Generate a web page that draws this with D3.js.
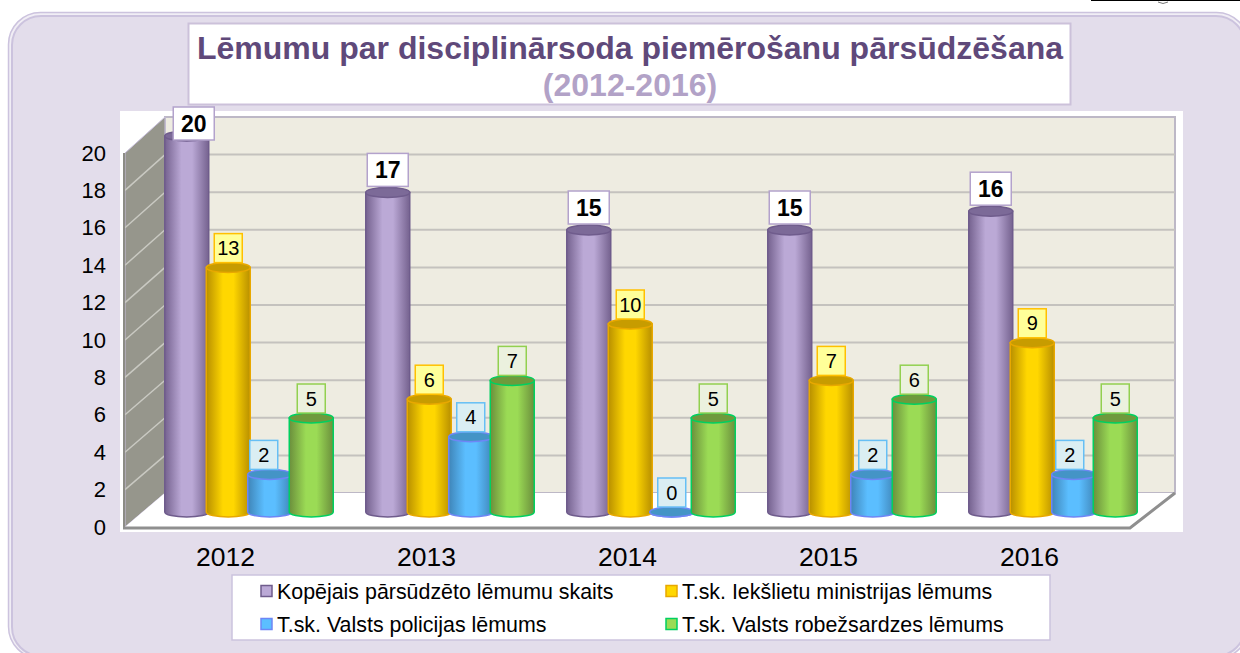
<!doctype html>
<html>
    <head>
        <meta charset="utf-8">
        <title>Lēmumu par disciplinārsoda piemērošanu pārsūdzēšana</title>
        <script src="https://d3js.org/d3.v7.min.js"></script>
        <style type="text/css">
            html, body { margin: 0; padding: 0; background: #fff; overflow: hidden; }
            svg { display: block; font-family: "Liberation Sans", Arial, sans-serif; }
            .axis path, .axis line { display: none; }
            .axis text { fill: #000; font-family: "Liberation Sans", Arial, sans-serif; }
        </style>
    </head>
    <body>
        <script>
        var titleText = "Lēmumu par disciplinārsoda piemērošanu pārsūdzēšana";
        var subtitleText = "(2012-2016)";
        var years = ["2012", "2013", "2014", "2015", "2016"];
        var seriesNames = [
            "Kopējais pārsūdzēto lēmumu skaits", "T.sk. Iekšlietu ministrijas lēmums",
            "T.sk. Valsts policijas lēmums", "T.sk. Valsts robežsardzes lēmums"];
        var totalValues = [20, 17, 15, 15, 16];
        var ministryValues = [13, 6, 10, 7, 9];
        var policeValues = [2, 4, 0, 2, 2];
        var borderValues = [5, 7, 5, 6, 5];
        var yTicks = [0, 2, 4, 6, 8, 10, 12, 14, 16, 18, 20];

        var seriesValues = [totalValues, ministryValues, policeValues, borderValues];
        var styles = [
            {edge: "#6F5C8C", dark: "#75628F", light: "#BBA9D6", top: "#7C6A98", fill: "#fff", box: "#B3A2CC", bold: true},
            {edge: "#E8A800", dark: "#B88F00", light: "#FFD700", top: "#C79C00", fill: "#FFFF99", box: "#FFC000"},
            {edge: "#6E86F5", dark: "#3F85B8", light: "#5BBEFF", top: "#4494C6", fill: "#DAEEF3", box: "#66BFF5"},
            {edge: "#00D060", dark: "#6B8F3C", light: "#9BDB55", top: "#6E9A3C", fill: "#EBF1DE", box: "#92D050"}
        ];

        var svg = d3.select("body").append("svg").attr("width", 1240).attr("height", 653);
        var defs = svg.append("defs");

        // page scrap and rounded panel
        svg.append("line").attr("x1", 1091).attr("x2", 1240).attr("y1", 0.5).attr("y2", 0.5).attr("stroke", "#000");
        svg.append("path").attr("d", "M1158 2 q5 3 10 0").attr("fill", "none").attr("stroke", "#777");
        svg.append("rect").attr("x", 8.5).attr("y", 12.5).attr("width", 1240).attr("height", 646).attr("rx", 32)
            .attr("fill", "#F1EEF5").attr("stroke", "#CCC3DE").attr("stroke-width", 1.5);
        svg.append("rect").attr("x", 12).attr("y", 16).attr("width", 1233).attr("height", 640).attr("rx", 29)
            .attr("fill", "#E3DDEB").attr("stroke", "#CCC3DE").attr("stroke-width", 2);

        // title box
        svg.append("rect").attr("x", 188.5).attr("y", 23.5).attr("width", 882).attr("height", 81)
            .attr("fill", "#fff").attr("stroke", "#CCC1DA").attr("stroke-width", 2);
        svg.append("text").attr("x", 630).attr("y", 59).attr("text-anchor", "middle")
            .attr("font-size", 32).attr("font-weight", "bold").attr("fill", "#5F497A").text(titleText);
        svg.append("text").attr("x", 630).attr("y", 96).attr("text-anchor", "middle")
            .attr("font-size", 32).attr("font-weight", "bold").attr("fill", "#B2A2C7").text(subtitleText);

        // chart area
        svg.append("rect").attr("x", 120).attr("y", 111).attr("width", 1063).attr("height", 421).attr("fill", "#fff");

        var x0 = d3.scaleBand().domain(years).range([125, 1130]);
        var x1 = d3.scaleBand().domain(d3.range(4)).range([-83, 83]);
        var depthX = 23.5;
        var yFront = d3.scaleLinear().domain([0, 20]).range([527, 153]);
        var yBack = d3.scaleLinear().domain([0, 20]).range([493, 117]);
        var yBar = d3.scaleLinear().domain([0, 20]).range([512, 136]);

        var wallL = 165, wallR = 1175, frontL = 125, frontR = 1130;

        // back wall
        svg.append("rect").attr("x", wallL).attr("y", yBack(20)).attr("width", wallR - wallL).attr("height", yBack(0) - yBack(20))
            .attr("fill", "#EEECE1").attr("stroke", "#BDB8C6").attr("stroke-width", 2);
        svg.selectAll("line.back").data(yTicks.slice(1, -1)).enter().append("line")
            .attr("class", "back")
            .attr("x1", wallL).attr("x2", wallR)
            .attr("y1", function(d) { return yBack(d); }).attr("y2", function(d) { return yBack(d); })
            .attr("stroke", "#C4C2BE").attr("stroke-width", 2);

        // side wall
        svg.append("path")
            .attr("d", "M" + frontL + "," + yFront(20) + "L" + wallL + "," + yBack(20) + "L" + wallL + "," + yBack(0) + "L" + frontL + "," + yFront(0) + "Z")
            .attr("fill", "#96968C").attr("stroke", "#C7BEDB").attr("stroke-width", 1);
        svg.selectAll("line.side").data(yTicks.slice(1, -1)).enter().append("line")
            .attr("class", "side")
            .attr("x1", frontL).attr("x2", wallL)
            .attr("y1", function(d) { return yFront(d); }).attr("y2", function(d) { return yBack(d); })
            .attr("stroke", "#C9C9C2").attr("stroke-width", 1.5);
        svg.append("line").attr("x1", frontL - 1).attr("x2", frontL - 1).attr("y1", yFront(20)).attr("y2", yFront(0))
            .attr("stroke", "#8C8C86").attr("stroke-width", 2);

        // floor
        svg.append("path")
            .attr("d", "M" + frontL + "," + yFront(0) + "L" + wallL + "," + yBack(0) + "L" + wallR + "," + yBack(0) + "L" + frontR + "," + yFront(0) + "Z")
            .attr("fill", "#fff");
        svg.append("path")
            .attr("d", "M" + (frontL - 2) + "," + (yFront(0) + 1) + "L" + frontR + "," + (yFront(0) + 1) + "L" + wallR + "," + yBack(0))
            .attr("fill", "none").attr("stroke", "#8F8F8F").attr("stroke-width", 3);

        // axes
        svg.append("g").attr("class", "axis").attr("transform", "translate(106,0)")
            .call(d3.axisLeft(yFront).tickValues(yTicks).tickSize(0).tickPadding(0))
            .selectAll("text").attr("font-size", 22);
        svg.append("g").attr("class", "axis").attr("transform", "translate(0,547)")
            .call(d3.axisBottom(x0).tickSize(0).tickPadding(0))
            .selectAll("text").attr("font-size", 26.5);

        // bars
        styles.forEach(function(s, i) {
            var g = defs.append("linearGradient").attr("id", "grad" + i);
            g.append("stop").attr("offset", "0%").attr("stop-color", s.dark);
            g.append("stop").attr("offset", "38%").attr("stop-color", s.light);
            g.append("stop").attr("offset", "62%").attr("stop-color", s.light);
            g.append("stop").attr("offset", "100%").attr("stop-color", s.dark);
        });

        var barW = 44, ry = 5;
        var labelNudge = {"0-0": [7, 10], "2-0": [-6, 0], "2-4": [-4, 0]};

        seriesValues.forEach(function(values, i) {
            var s = styles[i];
            var group = svg.append("g").attr("class", "series" + i);
            var bars = group.selectAll("g").data(values).enter().append("g")
                .attr("transform", function(d, j) {
                    return "translate(" + (x0(years[j]) + x0.bandwidth() / 2 + depthX + x1(i) + x1.bandwidth() / 2) + ",0)";
                });
            bars.append("path")
                .attr("d", function(d) {
                    var t = yBar(d), b = yBar(0), r = barW / 2;
                    return "M" + (-r) + "," + t + "L" + (-r) + "," + b +
                        "A" + r + "," + ry + " 0 0 0 " + r + "," + b +
                        "L" + r + "," + t + "Z";
                })
                .attr("fill", "url(#grad" + i + ")")
                .attr("stroke", s.edge).attr("stroke-width", 1.5);
            bars.append("ellipse")
                .attr("cx", 0).attr("cy", function(d) { return yBar(d); })
                .attr("rx", barW / 2).attr("ry", ry)
                .attr("fill", s.top).attr("stroke", s.edge).attr("stroke-width", 1.5);
        });

        // value labels go on top of every bar
        seriesValues.forEach(function(values, i) {
            var s = styles[i];
            var labels = svg.append("g").selectAll("g").data(values).enter().append("g")
                .attr("transform", function(d, j) {
                    var nudge = labelNudge[i + "-" + j] || [0, 0];
                    return "translate(" + (x0(years[j]) + x0.bandwidth() / 2 + depthX + x1(i) + x1.bandwidth() / 2 + nudge[0]) + "," + (yBar(d) - (s.bold ? 6 : 5) + nudge[1]) + ")";
                });
            var w = s.bold ? 41 : 28, h = s.bold ? 33 : 29;
            labels.append("rect")
                .attr("x", -w / 2).attr("y", -h).attr("width", w).attr("height", h)
                .attr("fill", s.fill).attr("stroke", s.box).attr("stroke-width", 1.5);
            labels.append("text")
                .attr("text-anchor", "middle").attr("y", s.bold ? -8.5 : -7.5)
                .attr("font-size", s.bold ? 23 : 20)
                .attr("font-weight", s.bold ? "bold" : "normal")
                .text(function(d) { return d; });
        });

        // legend
        svg.append("rect").attr("x", 232).attr("y", 575).attr("width", 818).attr("height", 65)
            .attr("fill", "#fff").attr("stroke", "#CCC3DE").attr("stroke-width", 1.5);
        var legendX = d3.scaleOrdinal().domain([0, 1]).range([261, 666]);
        var legendY = d3.scaleOrdinal().domain([0, 1]).range([591, 624]);
        var legend = svg.selectAll("g.legend").data(seriesNames).enter().append("g")
            .attr("class", "legend")
            .attr("transform", function(d, i) { return "translate(" + legendX(i % 2) + "," + legendY(Math.floor(i / 2)) + ")"; });
        legend.append("rect")
            .attr("x", 0).attr("y", -5.5).attr("width", 11).attr("height", 11)
            .attr("fill", function(d, i) { return styles[i].light; })
            .attr("stroke", function(d, i) { return styles[i].edge; }).attr("stroke-width", 1.5);
        legend.append("text")
            .attr("x", 16).attr("y", 7.5).attr("font-size", 21.4).attr("fill", "#000")
            .text(function(d) { return d; });
        </script>
    </body>
</html>
